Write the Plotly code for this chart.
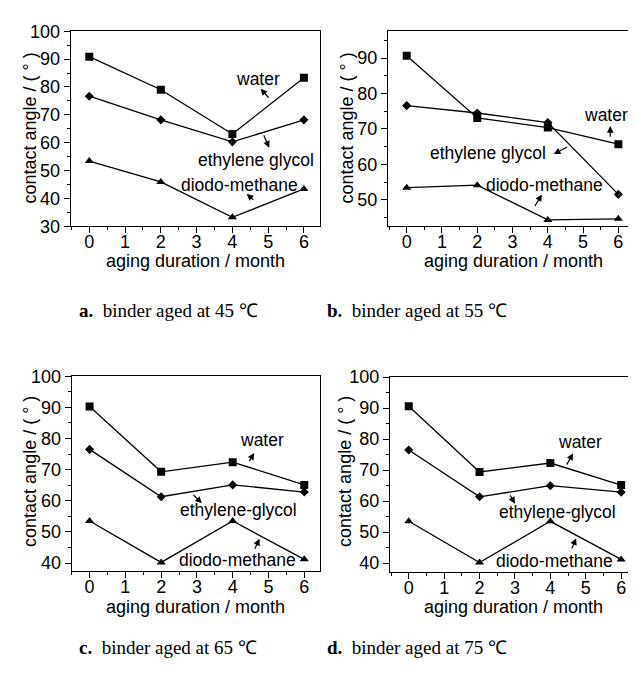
import plotly.graph_objects as go

OFF = 8  # default page margin of the browser body
W, H = 636 - OFF, 673 - OFF

months = [0, 2, 4, 6]
x_ticks = [0, 1, 2, 3, 4, 5, 6]

a_water = [90.9, 79.0, 63.1, 83.3]
a_eg = [76.7, 68.2, 60.3, 68.2]
a_dm = [53.4, 45.9, 33.2, 43.4]

b_water = [90.7, 73.1, 70.4, 65.7]
b_eg = [76.6, 74.5, 71.8, 51.5]
b_dm = [53.4, 54.1, 44.3, 44.6]

c_water = [90.3, 69.3, 72.4, 65.1]
c_eg = [76.5, 61.3, 65.1, 62.8]
c_dm = [53.5, 40.2, 53.5, 41.2]

d_water = [90.6, 69.4, 72.3, 65.2]
d_eg = [76.5, 61.4, 65.0, 62.9]
d_dm = [53.5, 40.2, 53.5, 41.2]

captions = ["<b>a.</b>  binder aged at 45 ℃", "<b>b.</b>  binder aged at 55 ℃",
            "<b>c.</b>  binder aged at 65 ℃", "<b>d.</b>  binder aged at 75 ℃"]
x_title = "aging duration / month"
y_title = "contact angle / ( ° )"

SANS = "Liberation Sans, Arial, sans-serif"
SERIF = "Liberation Serif, Times New Roman, serif"

# panel geometry in screen pixels: (left, right, top, bottom)
panels = [
    dict(px=(70.7, 320, 21.7, 222.7), xr=[-0.52, 6.45], yr=[30, 100], ymirror=True,
         series=(a_water, a_eg, a_dm)),
    dict(px=(388, 636, 21.7, 222.7), xr=[-0.53, 6.5], yr=[42.5, 97.6], ymirror=False,
         series=(b_water, b_eg, b_dm)),
    dict(px=(71.7, 320, 377.3, 578.3), xr=[-0.5, 6.44], yr=[37.4, 100], ymirror=True,
         series=(c_water, c_eg, c_dm)),
    dict(px=(390, 636, 378.3, 579), xr=[-0.53, 6.42], yr=[37.2, 100], ymirror=False,
         series=(d_water, d_eg, d_dm)),
]

# labels: (text, x, y) and arrows: (head_x, head_y, tail_x, tail_y) in data units
labels = [
    [("water", 4.71, 82.9), ("ethylene glycol", 4.66, 53.9), ("diodo-methane", 4.2, 44.8)],
    [("water", 5.64, 73.8), ("ethylene glycol", 2.31, 63.3), ("diodo-methane", 3.9, 54.2)],
    [("water", 4.82, 79.4), ("ethylene-glycol", 4.15, 56.9), ("diodo-methane", 4.14, 41.0)],
    [("water", 4.85, 79.1), ("ethylene-glycol", 4.21, 56.6), ("diodo-methane", 4.11, 40.8)],
]
arrows = [
    [(4.79, 79.4, 5.05, 75.6), (5.03, 58.2, 4.86, 63.2), (4.40, 41.6, 4.63, 39.0)],
    [(5.77, 70.8, 5.77, 67.4), (4.17, 62.9, 4.59, 65.1), (3.83, 51.5, 3.61, 47.8)],
    [(4.60, 75.3, 4.44, 72.2), (3.14, 59.2, 2.86, 62.3), (4.75, 47.8, 4.60, 44.1)],
    [(4.64, 75.4, 4.44, 71.3), (3.00, 59.2, 2.84, 62.4), (4.73, 48.0, 4.59, 44.3)],
]
caption_pos = [(77, 310), (325, 310), (77, 657), (325, 657)]
xtitle_pos = [(195, 259), (513, 259), (195, 615), (513, 615)]
ytitle_pos = [(30, 122), (347, 122), (30, 476), (345, 476)]

symbols = ["square", "diamond", "triangle-up"]
msizes = [8, 7, 8]


def fx(px):
    return (px - OFF) / W


def fy(py):
    return 1 - (py - OFF) / H


fig = go.Figure()
annotations = []

for i, p in enumerate(panels):
    n = "" if i == 0 else str(i + 1)
    xa, ya = "x" + n, "y" + n
    l, r, t, b = p["px"]
    for vals, sym, ms in zip(p["series"], symbols, msizes):
        fig.add_trace(go.Scatter(
            x=months, y=vals, mode="lines+markers", xaxis=xa, yaxis=ya,
            line=dict(color="black", width=1.3),
            marker=dict(symbol=sym, size=ms, color="black"),
            showlegend=False, hoverinfo="skip"))
    common = dict(showline=True, linecolor="black", linewidth=1.3, ticks="outside",
                  ticklen=6, tickwidth=1.2, tickcolor="black", showgrid=False,
                  zeroline=False, tickfont=dict(family=SANS, size=18, color="black"))
    fig.layout["xaxis" + n] = dict(
        domain=[max(0, fx(l)), min(1, fx(r))], range=p["xr"], anchor=ya, mirror=True,
        tickmode="array", tickvals=x_ticks, ticklabelstandoff=-7,
        minor=dict(dtick=0.5, tick0=0, ticklen=3, ticks="outside", tickcolor="black", tickwidth=1),
        **common)
    fig.layout["yaxis" + n] = dict(
        domain=[fy(b), fy(t)], range=p["yr"], anchor=xa, mirror=p["ymirror"],
        dtick=10, tick0=0,
        minor=dict(dtick=5, tick0=0, ticklen=3, ticks="outside", tickcolor="black", tickwidth=1),
        **common)
    for text, tx, ty in labels[i]:
        annotations.append(dict(text=text, x=tx, y=ty, xref=xa, yref=ya, showarrow=False,
                                font=dict(family=SANS, size=17.5, color="black")))
    for hx, hy, txx, tyy in arrows[i]:
        annotations.append(dict(text="", x=hx, y=hy, ax=txx, ay=tyy, xref=xa, yref=ya,
                                axref=xa, ayref=ya, showarrow=True, arrowhead=2,
                                arrowsize=1.1, arrowwidth=1.2, arrowcolor="black",
                                standoff=0, startstandoff=0))
    cx, cy = caption_pos[i]
    annotations.append(dict(text=captions[i], x=fx(cx), y=fy(cy), xref="paper", yref="paper",
                            xanchor="left", yanchor="middle", showarrow=False,
                            font=dict(family=SERIF, size=19, color="black")))
    tx, ty = xtitle_pos[i]
    annotations.append(dict(text=x_title, x=fx(tx), y=fy(ty), xref="paper", yref="paper",
                            xanchor="center", yanchor="middle", showarrow=False,
                            font=dict(family=SANS, size=18, color="black")))
    tx, ty = ytitle_pos[i]
    annotations.append(dict(text=y_title, x=fx(tx), y=fy(ty), xref="paper", yref="paper",
                            xanchor="center", yanchor="middle", showarrow=False, textangle=-90,
                            font=dict(family=SANS, size=18, color="black")))

fig.update_layout(width=W, height=H, margin=dict(l=0, r=0, t=0, b=0),
                  paper_bgcolor="white", plot_bgcolor="white",
                  annotations=annotations)

fig.write_html("out.html")
